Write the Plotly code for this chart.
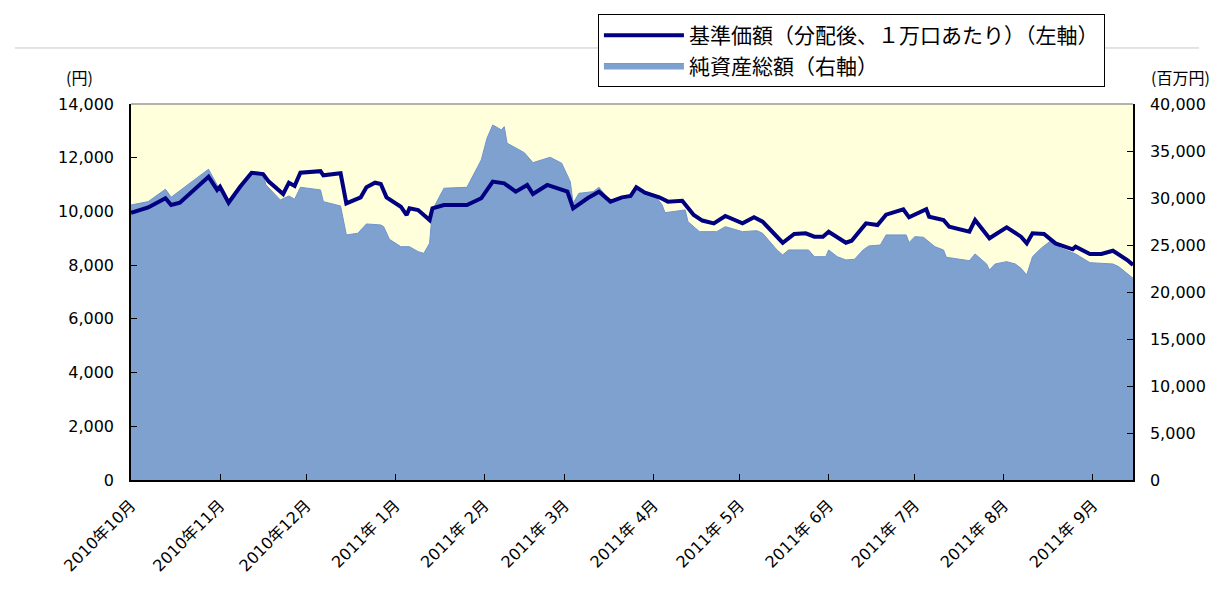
import plotly.graph_objects as go

# 基準価額（分配後、1万口あたり）(円) — left axis
nav_dates = [
    "2010-10-01", "2010-10-07", "2010-10-13", "2010-10-15", "2010-10-18", "2010-10-23",
    "2010-10-28", "2010-10-31", "2010-11-01", "2010-11-04", "2010-11-08", "2010-11-12",
    "2010-11-16", "2010-11-18", "2010-11-23", "2010-11-25", "2010-11-27", "2010-11-29",
    "2010-12-06", "2010-12-07", "2010-12-13", "2010-12-15", "2010-12-20", "2010-12-22",
    "2010-12-25", "2010-12-27", "2010-12-29", "2011-01-03", "2011-01-05", "2011-01-06",
    "2011-01-09", "2011-01-13", "2011-01-14", "2011-01-18", "2011-01-26", "2011-01-31",
    "2011-02-04", "2011-02-08", "2011-02-12", "2011-02-16", "2011-02-18", "2011-02-23",
    "2011-02-28", "2011-03-02", "2011-03-04", "2011-03-09", "2011-03-13", "2011-03-17",
    "2011-03-21", "2011-03-24", "2011-03-26", "2011-03-29", "2011-04-03", "2011-04-06",
    "2011-04-11", "2011-04-15", "2011-04-18", "2011-04-22", "2011-04-26", "2011-05-02",
    "2011-05-06", "2011-05-09", "2011-05-16", "2011-05-20", "2011-05-24", "2011-05-27",
    "2011-05-30", "2011-06-01", "2011-06-07", "2011-06-09", "2011-06-14", "2011-06-18",
    "2011-06-21", "2011-06-27", "2011-06-29", "2011-07-05", "2011-07-06", "2011-07-11",
    "2011-07-13", "2011-07-20", "2011-07-22", "2011-07-27", "2011-08-02", "2011-08-07",
    "2011-08-09", "2011-08-11", "2011-08-15", "2011-08-19", "2011-08-25", "2011-08-26",
    "2011-08-31", "2011-09-04", "2011-09-08", "2011-09-13", "2011-09-15",
]
nav_values = [
    9950, 10150, 10490, 10240, 10325, 10800,
    11290, 10800, 10920, 10325, 10920, 11440,
    11390, 11110, 10650, 11070, 10950, 11440,
    11500, 11345, 11420, 10300, 10525, 10900,
    11070, 11020, 10525, 10175, 9866, 10115,
    10050, 9680, 10115, 10240, 10240, 10490,
    11110, 11045, 10735, 10985, 10650, 10985,
    10820, 10735, 10115, 10490, 10735, 10365,
    10525, 10575, 10900, 10700, 10525, 10365,
    10400, 9866, 9660, 9555, 9830, 9555,
    9780, 9617, 8835, 9160, 9185, 9060,
    9060, 9245, 8835, 8910, 9555, 9495,
    9880, 10080, 9780, 10080, 9805, 9680,
    9430, 9245, 9680, 9000, 9405, 9060,
    8810, 9185, 9160, 8810, 8590, 8685,
    8415, 8415, 8535, 8190, 8005,
]

# 純資産総額 (百万円) — right axis
aum_dates = [
    "2010-10-01", "2010-10-07", "2010-10-13", "2010-10-15", "2010-10-23", "2010-10-28",
    "2010-10-31", "2010-11-04", "2010-11-12", "2010-11-16", "2010-11-17", "2010-11-22",
    "2010-11-25", "2010-11-27", "2010-11-29", "2010-12-06", "2010-12-07", "2010-12-13",
    "2010-12-15", "2010-12-19", "2010-12-22", "2010-12-27", "2010-12-28", "2010-12-30",
    "2011-01-03", "2011-01-06", "2011-01-09", "2011-01-11", "2011-01-13", "2011-01-14",
    "2011-01-18", "2011-01-26", "2011-01-31", "2011-02-02", "2011-02-04", "2011-02-07",
    "2011-02-08", "2011-02-09", "2011-02-15", "2011-02-18", "2011-02-24", "2011-02-28",
    "2011-03-03", "2011-03-04", "2011-03-06", "2011-03-11", "2011-03-13", "2011-03-17",
    "2011-03-23", "2011-03-26", "2011-04-02", "2011-04-04", "2011-04-05", "2011-04-12",
    "2011-04-13", "2011-04-17", "2011-04-23", "2011-04-26", "2011-05-02", "2011-05-07",
    "2011-05-09", "2011-05-14", "2011-05-16", "2011-05-18", "2011-05-25", "2011-05-27",
    "2011-05-31", "2011-06-01", "2011-06-04", "2011-06-07", "2011-06-10", "2011-06-13",
    "2011-06-15", "2011-06-19", "2011-06-21", "2011-06-28", "2011-06-29", "2011-07-01",
    "2011-07-04", "2011-07-08", "2011-07-11", "2011-07-12", "2011-07-20", "2011-07-22",
    "2011-07-26", "2011-07-27", "2011-07-29", "2011-08-02", "2011-08-05", "2011-08-07",
    "2011-08-09", "2011-08-11", "2011-08-14", "2011-08-17", "2011-08-21", "2011-08-26",
    "2011-08-31", "2011-09-08", "2011-09-10", "2011-09-13", "2011-09-15",
]
aum_values = [
    29260, 29615, 30930, 30080, 31920, 33060,
    31390, 29790, 32805, 32560, 31390, 29790,
    30220, 29865, 31140, 30860, 29610, 29150,
    26070, 26245, 27240, 27130, 26950, 25610,
    24820, 24820, 24290, 24110, 25180, 28730,
    31040, 31140, 34050, 36360, 37770, 37240,
    37590, 35830, 34820, 33760, 34335, 33700,
    31740, 29440, 30500, 30675, 31140, 29610,
    30080, 31040, 30080, 29260, 28440, 28730,
    27480, 26420, 26420, 26950, 26420, 26525,
    26245, 24470, 23940, 24470, 24470, 23760,
    23760, 24470, 23760, 23410, 23480, 24470,
    24900, 25000, 26070, 26070, 25250, 25890,
    25820, 24820, 24470, 23690, 23330, 24050,
    22980, 22340, 22980, 23230, 22980, 22520,
    21810, 23760, 24650, 25360, 24650, 24050,
    23120, 22980, 22700, 21990, 21460,
]

month_ticks = [
    "2010-10-01", "2010-11-01", "2010-12-01", "2011-01-01", "2011-02-01", "2011-03-01",
    "2011-04-01", "2011-05-01", "2011-06-01", "2011-07-01", "2011-08-01", "2011-09-01",
]
month_labels = [
    "2010年10月", "2010年11月", "2010年12月", "2011年 1月", "2011年 2月", "2011年 3月",
    "2011年 4月", "2011年 5月", "2011年 6月", "2011年 7月", "2011年 8月", "2011年 9月",
]
left_ticks = [0, 2000, 4000, 6000, 8000, 10000, 12000, 14000]
right_ticks = [0, 5000, 10000, 15000, 20000, 25000, 30000, 35000, 40000]

FONT = "DejaVu Sans, Noto Sans CJK JP"
CJK = "Noto Sans CJK JP"

fig = go.Figure()
fig.add_trace(go.Scatter(
    x=aum_dates, y=aum_values, name="純資産総額（右軸）",
    mode="lines", fill="tozeroy", line=dict(color="#6F93CC", width=1),
    fillcolor="#7FA1CF", yaxis="y", legendrank=2, legendgroup="b",
))
fig.add_trace(go.Scatter(
    x=nav_dates, y=nav_values, name="基準価額（分配後、１万口あたり）（左軸）",
    mode="lines", line=dict(color="#000080", width=4),
    yaxis="y2", legendrank=1, legendgroup="a",
))

fig.update_layout(
    width=1207, height=576,
    margin=dict(l=123, r=82, t=96, b=104, autoexpand=False),
    paper_bgcolor="white", plot_bgcolor="#FFFFDC",
    font=dict(family=FONT, size=16, color="black"),
    showlegend=True,
    legend=dict(
        x=0.466, y=1.239, xanchor="left", yanchor="top",
        bgcolor="white", bordercolor="black", borderwidth=1,
        font=dict(size=21, family=CJK), tracegroupgap=0, itemwidth=80,
    ),
    xaxis=dict(
        type="date", range=["2010-10-01", "2011-09-15"],
        tickvals=month_ticks, ticktext=month_labels, tickangle=-45,
        ticks="inside", ticklen=6, tickcolor="black",
        showline=True, linecolor="black", linewidth=1.5,
        showgrid=False, zeroline=False, ticklabelstandoff=8,
        tickfont=dict(size=16), automargin=False,
    ),
    yaxis=dict(
        side="right", range=[0, 40000], tickvals=right_ticks, tickformat=",d",
        ticks="inside", ticklen=6, tickcolor="black",
        showline=True, linecolor="black", linewidth=1.5,
        showgrid=False, zeroline=False, ticklabelstandoff=12,
        tickfont=dict(size=16), automargin=False,
    ),
    yaxis2=dict(
        overlaying="y", side="left", range=[0, 14000], tickvals=left_ticks,
        tickformat=",d", ticks="inside", ticklen=6, tickcolor="black",
        showline=True, linecolor="black", linewidth=1.5,
        showgrid=False, zeroline=False, ticklabelstandoff=12,
        tickfont=dict(size=16), automargin=False,
    ),
    annotations=[
        dict(text="(円)", xref="paper", yref="paper", x=-0.051, y=1.035,
             xanchor="center", yanchor="bottom", showarrow=False,
             font=dict(size=16, family=CJK)),
        dict(text="(百万円)", xref="paper", yref="paper", x=1.047, y=1.035,
             xanchor="center", yanchor="bottom", showarrow=False,
             font=dict(size=16, family=CJK)),
    ],
    shapes=[
        dict(type="line", xref="paper", yref="paper", x0=0, x1=1, y0=1, y1=1,
             line=dict(color="#999999", width=1.5), layer="above"),
        dict(type="line", xref="paper", yref="paper", x0=-0.116, x1=1.066,
             y0=1.149, y1=1.149, line=dict(color="#C8C8C8", width=1), layer="below"),
    ],
)

fig.write_html("out.html")
